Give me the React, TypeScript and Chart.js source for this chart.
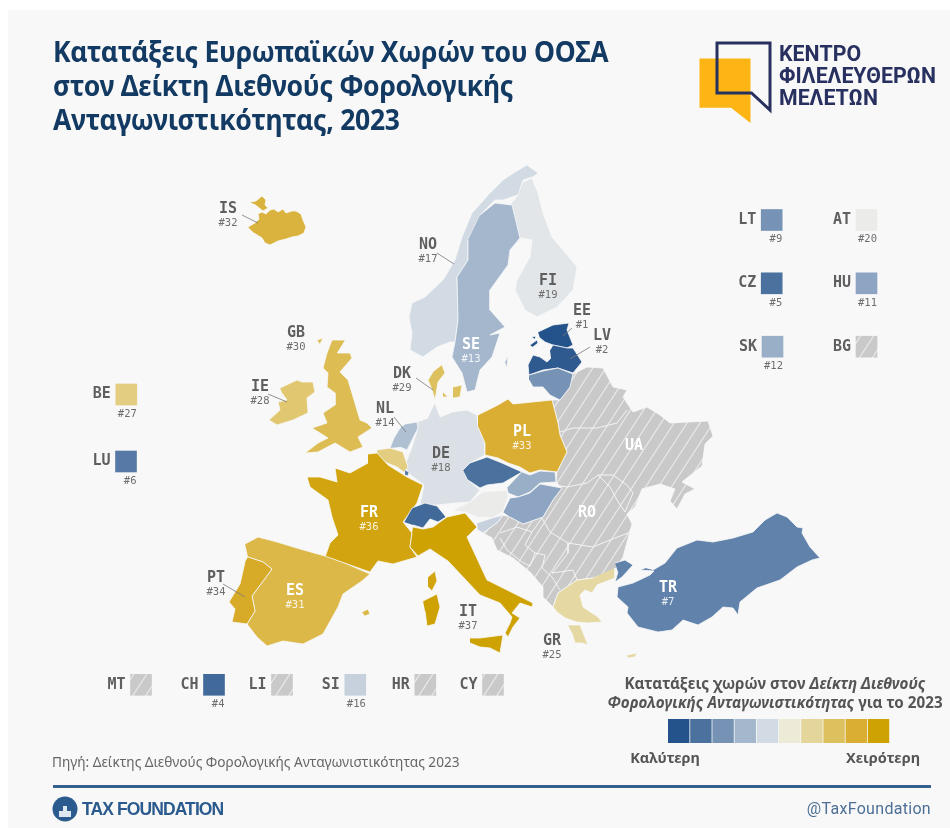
import React, { useEffect, useRef } from "react";
import { Chart, registerables } from "chart.js";

Chart.register(...registerables);

type P = [number, number];

// ---- Ranks (countries missing here have no rank: hatched) ----
const rankedCodes = ["EE","LV","CH","CZ","LU","TR","LT","HU","SK","SE","NL","SI","NO","DE","FI","AT","GR","BE","IE","DK","GB","ES","IS","PL","PT","FR","IT"];
const rankValues = [1,2,4,5,6,7,9,11,12,13,14,16,17,18,19,20,25,27,28,29,30,31,32,33,34,36,37];
const scalePalette = ["#24528a","#4b729f","#7693b6","#a4b7cd","#d2dae3","#eeead8","#e4d59a","#dec15f","#d9ae33","#cfa204"];
const mapRamp = ["#24528a","#4b729f","#7693b6","#a4b7cd","#d2dae3","#f3f1ec","#e6d8a2","#dec15f","#d9ae33","#cfa204"];

// ---- Map outlines, in map units ----
const outlineIS: P[] = [[248,227],[255,223],[259,219],[258,214],[262,212],[266,214],[270,210],[274,209],[278,212],[283,209],[286,213],[292,211],[296,211],[301,214],[303,220],[306,227],[304,233],[298,236],[292,237],[286,239],[278,241],[270,245],[265,243],[262,238],[254,233]];
const outlineISnw: P[] = [[250,202],[256,201],[262,196],[266,200],[265,205],[268,208],[263,211],[258,207],[254,204]];
const outlineNO: P[] = [[538,173],[527,165],[515,172],[503,180],[490,193],[472,213],[462,237],[455,260],[443,280],[425,297],[412,303],[409,317],[412,333],[410,350],[423,357],[437,347],[450,342],[455,342],[458,320],[457,277],[468,260],[468,240],[480,215],[495,200],[503,200],[518,195],[523,180],[532,177]];
const outlineSE: P[] = [[480,215],[495,203],[512,205],[520,238],[510,250],[508,265],[490,290],[490,310],[505,327],[490,335],[500,333],[492,357],[480,370],[475,390],[467,392],[462,373],[452,357],[455,342],[458,320],[457,277],[468,260],[468,240]];
const outlineGotland: P[] = [[505,362],[508,355],[507,367]];
const outlineFI: P[] = [[523,182],[532,178],[538,193],[543,213],[552,237],[563,250],[577,267],[573,290],[557,307],[537,317],[525,310],[515,290],[517,280],[530,257],[532,240],[520,238],[513,213],[510,205],[518,195]];
const outlineDKjut: P[] = [[442,365],[445,373],[438,382],[435,400],[432,390],[428,380],[433,372]];
const outlineDKzea: P[] = [[453,387],[462,385],[460,397],[453,398]];
const outlineDKfyn: P[] = [[443,392],[448,397],[443,397]];
const outlineDE: P[] = [[435,403],[440,417],[452,412],[467,410],[477,415],[478,427],[485,443],[485,455],[470,463],[463,470],[468,480],[480,490],[470,502],[455,503],[437,505],[420,505],[424,485],[408,473],[405,465],[412,447],[418,428],[417,422],[428,418]];
const outlineNL: P[] = [[390,448],[394,438],[400,428],[405,424],[417,422],[418,428],[412,440],[407,450],[400,447]];
const outlineBE: P[] = [[377,450],[390,448],[403,452],[408,467],[405,471],[405,473],[397,467],[387,463],[378,457]];
const outlineLU: P[] = [[405,470],[409,472],[408,476],[405,475]];
const outlineFR: P[] = [[368,454],[377,453],[388,465],[407,477],[423,485],[417,503],[403,522],[412,533],[410,547],[417,557],[393,564],[378,561],[370,572],[347,564],[325,557],[330,543],[338,535],[332,517],[328,500],[310,487],[307,477],[320,477],[337,482],[335,468],[350,473],[368,463]];
const outlineCorsica: P[] = [[428,577],[435,571],[437,581],[432,591],[428,587]];
const outlineIT: P[] = [[413,527],[423,529],[433,527],[447,517],[465,513],[477,527],[467,537],[480,565],[487,580],[503,588],[523,598],[533,603],[532,607],[520,603],[512,613],[520,618],[513,627],[508,637],[505,633],[510,623],[512,617],[500,603],[480,595],[448,561],[430,549],[418,556],[410,547],[412,533]];
const outlineSardinia: P[] = [[423,601],[437,594],[440,607],[435,624],[427,626],[425,611]];
const outlineSicily: P[] = [[470,638],[480,638],[503,635],[500,653],[490,648],[480,647],[470,643]];
const outlineES: P[] = [[245,544],[258,537],[277,542],[300,549],[325,556],[347,564],[370,574],[362,581],[343,594],[338,607],[323,634],[303,644],[283,641],[267,646],[257,637],[247,624],[255,611],[252,596],[272,569],[263,562],[248,557]];
const outlineMallorca: P[] = [[362,612],[368,609],[370,614],[365,616]];
const outlinePT: P[] = [[248,557],[263,562],[272,569],[252,596],[255,611],[247,624],[232,622],[235,609],[229,602],[240,584],[245,562]];
const outlineGB: P[] = [[345,340],[332,340],[327,353],[323,368],[328,373],[327,387],[335,393],[335,405],[323,413],[327,423],[312,428],[320,433],[328,438],[318,443],[305,453],[318,452],[335,443],[350,452],[363,447],[358,437],[372,428],[367,423],[360,420],[348,380],[340,372],[352,358],[350,353],[337,353]];
const outlineHebrides: P[] = [[317,340],[323,338],[320,344]];
const outlineIE: P[] = [[280,388],[297,380],[302,382],[313,382],[315,392],[307,398],[308,413],[293,420],[277,425],[269,420],[280,410],[278,402],[287,400],[282,393]];
const outlineEE: P[] = [[538,332],[553,325],[569,323],[567,330],[573,345],[567,348],[553,345],[545,342],[540,338]];
const outlineSaaremaa: P[] = [[530,345],[537,340],[538,343],[533,347]];
const outlineHiiumaa: P[] = [[532,337],[536,336],[535,339]];
const outlineLV: P[] = [[550,350],[553,345],[567,348],[573,348],[582,362],[573,373],[558,368],[543,370],[529,375],[528,365],[533,355],[540,357],[547,362],[551,358]];
const outlineLT: P[] = [[529,375],[543,371],[558,368],[573,374],[570,387],[560,400],[550,395],[543,387],[533,387],[529,380]];
const outlinePL: P[] = [[478,415],[498,405],[508,399],[513,404],[552,400],[558,423],[560,435],[567,452],[557,472],[540,470],[530,473],[520,467],[508,463],[498,458],[485,455],[485,443],[478,427]];
const outlineCZ: P[] = [[463,470],[470,463],[487,457],[502,463],[522,472],[503,483],[487,485],[480,488],[468,480]];
const outlineSK: P[] = [[522,472],[530,475],[540,471],[555,472],[556,482],[540,483],[530,492],[518,497],[508,493],[507,488]];
const outlineHU: P[] = [[503,512],[510,498],[518,497],[530,493],[540,484],[562,488],[553,500],[543,517],[523,524],[510,517]];
const outlineAT: P[] = [[453,510],[470,502],[482,492],[507,490],[508,497],[503,512],[492,518],[477,517],[465,512]];
const outlineCH: P[] = [[404,522],[412,508],[425,503],[437,506],[446,517],[438,522],[430,519],[423,528],[413,525]];
const outlineSI: P[] = [[477,523],[492,518],[503,515],[498,522],[483,533],[478,530]];
const outlineTRthrace: P[] = [[615,563],[625,560],[633,565],[622,577],[615,582],[618,572]];
const outlineTR: P[] = [[653,570],[665,563],[677,548],[697,540],[713,542],[733,538],[753,532],[765,520],[777,513],[787,517],[797,527],[803,528],[802,533],[810,547],[820,558],[812,560],[797,567],[780,580],[757,588],[740,602],[738,615],[733,608],[723,607],[712,617],[698,625],[683,620],[672,630],[658,632],[638,627],[627,613],[628,607],[617,597],[618,587],[633,583],[650,575],[654,571],[640,570],[645,568]];
const outlineGR: P[] = [[615,568],[615,578],[597,585],[592,593],[585,590],[580,595],[583,607],[598,617],[602,622],[587,623],[577,622],[565,618],[557,612],[553,607],[558,593],[577,580],[593,578]];
const outlinePeloponnese: P[] = [[568,625],[580,625],[588,645],[582,643],[575,643],[572,633]];
const outlineCrete: P[] = [[627,655],[637,653],[635,657],[628,658]];
const outlineHatched: P[] = [[573,374],[587,367],[603,368],[613,387],[627,390],[623,397],[633,412],[647,407],[660,415],[670,423],[708,421],[713,436],[705,444],[702,466],[682,482],[695,489],[685,494],[677,509],[670,501],[675,489],[660,484],[642,489],[635,507],[627,514],[632,524],[623,557],[615,570],[593,578],[577,580],[558,593],[553,607],[543,597],[543,587],[530,572],[513,558],[497,550],[492,538],[483,533],[498,522],[503,515],[510,517],[523,524],[543,517],[553,500],[562,488],[556,482],[557,472],[567,452],[560,435],[558,423],[552,400],[560,400],[570,387]];

// ---- Internal borders of the hatched block ----
const borderBY: P[] = [[560,432],[573,428],[597,428],[617,423],[627,410]];
const borderUA: P[] = [[555,485],[567,487],[587,483],[598,475],[613,475],[627,485],[633,493],[625,512]];
const borderMD: P[] = [[598,475],[610,487],[617,500],[625,512]];
const borderROsouth: P[] = [[568,543],[593,547],[610,540],[628,533]];
const borderROwest: P[] = [[542,518],[550,532],[568,543],[568,553],[555,570],[552,573]];
const borderHR: P[] = [[500,533],[517,527],[532,532],[542,518]];
const borderBA: P[] = [[500,538],[507,550],[522,562],[530,566],[535,553],[525,545],[532,532]];
const borderRS: P[] = [[535,553],[545,555],[542,568],[552,577],[560,590]];
const borderMK: P[] = [[552,573],[573,570],[577,580]];

// ---- Leader lines ----
const leaderIS: P[] = [[242,215],[258,223]];
const leaderNO: P[] = [[437,253],[454,264]];
const leaderIE: P[] = [[268,394],[287,402]];
const leaderDK: P[] = [[416,378],[433,390]];
const leaderNL: P[] = [[394,417],[406,432]];
const leaderEE: P[] = [[572,328],[563,336]];
const leaderLV: P[] = [[590,347],[570,359]];
const leaderPT: P[] = [[223,584],[245,597]];

const mapShapes: { code: string; outlines: P[][] }[] = [
  { code: "IS", outlines: [outlineIS, outlineISnw] },
  { code: "NO", outlines: [outlineNO] },
  { code: "FI", outlines: [outlineFI] },
  { code: "SE", outlines: [outlineSE, outlineGotland] },
  { code: "DK", outlines: [outlineDKjut, outlineDKzea, outlineDKfyn] },
  { code: "DE", outlines: [outlineDE] },
  { code: "NL", outlines: [outlineNL] },
  { code: "BE", outlines: [outlineBE] },
  { code: "FR", outlines: [outlineFR, outlineCorsica] },
  { code: "LU", outlines: [outlineLU] },
  { code: "IT", outlines: [outlineIT, outlineSardinia, outlineSicily] },
  { code: "ES", outlines: [outlineES, outlineMallorca] },
  { code: "PT", outlines: [outlinePT] },
  { code: "GB", outlines: [outlineGB, outlineHebrides] },
  { code: "IE", outlines: [outlineIE] },
  { code: "EE", outlines: [outlineEE, outlineSaaremaa, outlineHiiumaa] },
  { code: "LV", outlines: [outlineLV] },
  { code: "LT", outlines: [outlineLT] },
  { code: "PL", outlines: [outlinePL] },
  { code: "CZ", outlines: [outlineCZ] },
  { code: "SK", outlines: [outlineSK] },
  { code: "HU", outlines: [outlineHU] },
  { code: "AT", outlines: [outlineAT] },
  { code: "CH", outlines: [outlineCH] },
  { code: "SI", outlines: [outlineSI] },
  { code: "TR", outlines: [outlineTR, outlineTRthrace] },
  { code: "GR", outlines: [outlineGR, outlinePeloponnese, outlineCrete] },
];
const hatchedBorders = [borderBY, borderUA, borderMD, borderROsouth, borderROwest, borderHR, borderBA, borderRS, borderMK];
const leaders = [leaderIS, leaderNO, leaderIE, leaderDK, leaderNL, leaderEE, leaderLV, leaderPT];

// ---- Small-state tiles ----
const tileCodes = ["BE","LU","LT","AT","CZ","HU","SK","BG","MT","CH","LI","SI","HR","CY"];
const tileX = [126.3,126,771.7,866.5,771.7,866.5,772.5,866.5,141,214,282,355.3,425.3,493];
const tileY = [394.5,461.5,220,220,283.3,283.3,346.7,346.7,684.8,684.8,684.8,684.8,684.8,684.8];

// ---- Labels on the map ----
const mapLabelCodes = ["IS","NO","GB","IE","DK","NL","SE","FI","EE","LV","DE","PL","FR","ES","PT","IT","GR","TR"];
const mapLabelX = [228,428,296,260,402,385,471,548,582,602,441,522,369,295,216,468,552,668];
const mapLabelY = [209,245,333,387,374,409,345,281,311,336,454,432,513,591,578,612,641,588];
const whiteLabels = ["SE","PL","FR","ES","TR"];
const noRankLabels = [{ code: "UA", x: 634, y: 446 }, { code: "RO", x: 587, y: 513 }];

// ---- Legend scale geometry ----
const scaleCellEdges = [668,690.2,712.4,734.6,756.8,779,801.2,823.4,845.6,867.8,890];

const rankOf = (code: string) => {
  const i = rankedCodes.indexOf(code);
  return i < 0 ? null : rankValues[i];
};
const hexToRgb = (h: string) => [1, 3, 5].map((i) => parseInt(h.slice(i, i + 2), 16));
const colourForRank = (rank: number) => {
  const t = ((rank - 1) / 36) * (mapRamp.length - 1);
  const i = Math.min(Math.floor(t), mapRamp.length - 2);
  const a = hexToRgb(mapRamp[i]);
  const b = hexToRgb(mapRamp[i + 1]);
  const c = a.map((v, k) => Math.round(v + (b[k] - v) * (t - i)));
  return `rgb(${c[0]},${c[1]},${c[2]})`;
};
const toXY = (pts: P[]) => pts.map(([x, y]) => ({ x, y }));

const makeHatch = () => {
  const W = 13, H = 20;
  const c = document.createElement("canvas");
  c.width = W; c.height = H;
  const g = c.getContext("2d")!;
  g.fillStyle = "#c9c9c9";
  g.fillRect(0, 0, W, H);
  g.strokeStyle = "#ececec";
  g.lineWidth = 1.1;
  for (const dx of [-W, 0, W]) {
    g.beginPath();
    g.moveTo(dx, H);
    g.lineTo(dx + W, 0);
    g.stroke();
  }
  return g.createPattern(c, "repeat")!;
};

const CODE_FONT = 'bold 15px "DejaVu Sans Mono", monospace';
const RANK_FONT = '10.5px "DejaVu Sans Mono", monospace';

const labelPlugin = {
  id: "mapLabels",
  afterDatasetsDraw(chart: any) {
    const { ctx, scales } = chart;
    const X = (v: number) => scales.x.getPixelForValue(v);
    const Y = (v: number) => scales.y.getPixelForValue(v);
    ctx.save();
    ctx.textBaseline = "middle";
    ctx.textAlign = "center";
    mapLabelCodes.forEach((code, i) => {
      const white = whiteLabels.includes(code);
      ctx.font = CODE_FONT;
      ctx.fillStyle = white ? "#ffffff" : "#5f5f5f";
      ctx.fillText(code, X(mapLabelX[i]), Y(mapLabelY[i]));
      ctx.font = RANK_FONT;
      ctx.fillStyle = white ? "rgba(255,255,255,0.85)" : "#6e6e6e";
      ctx.fillText("#" + rankOf(code), X(mapLabelX[i]), Y(mapLabelY[i] + 14.5));
    });
    ctx.font = CODE_FONT;
    ctx.fillStyle = "#ffffff";
    noRankLabels.forEach((l) => ctx.fillText(l.code, X(l.x), Y(l.y)));
    tileCodes.forEach((code, i) => {
      ctx.textAlign = "right";
      ctx.font = CODE_FONT;
      ctx.fillStyle = "#5f5f5f";
      ctx.fillText(code, X(tileX[i] - 15.5), Y(tileY[i]));
      const r = rankOf(code);
      if (r !== null) {
        ctx.font = RANK_FONT;
        ctx.fillStyle = "#6e6e6e";
        ctx.fillText("#" + r, X(tileX[i] + 10.5), Y(tileY[i] + 19.5));
      }
    });
    ctx.restore();
  },
};

const abs = (left: number, top: number, extra: React.CSSProperties = {}): React.CSSProperties => ({
  position: "absolute", left, top, whiteSpace: "nowrap", ...extra,
});

export default function App() {
  const ref = useRef<HTMLCanvasElement>(null);
  useEffect(() => {
    const hatch = makeHatch();
    const datasets: any[] = [];
    const poly = (pts: P[], fillColour: any, border = "#f8f8f8", width = 0.8) => ({
      data: toXY(pts), showLine: true, fill: "shape", backgroundColor: fillColour,
      borderColor: border, borderWidth: width, pointRadius: 0, tension: 0,
    });
    const line = (pts: P[], colour: string, width: number) => ({
      data: toXY(pts), showLine: true, fill: false, borderColor: colour, borderWidth: width, pointRadius: 0,
    });
    datasets.push(poly(outlineHatched, hatch));
    hatchedBorders.forEach((b) => datasets.push(line(b, "#f4f4f4", 1)));
    mapShapes.forEach((s) => {
      const colour = colourForRank(rankOf(s.code) as number);
      s.outlines.forEach((o) => datasets.push(poly(o, colour)));
    });
    leaders.forEach((l) => datasets.push(line(l, "#7a7a7a", 0.8)));
    datasets.push({
      data: tileCodes.map((_, i) => ({ x: tileX[i], y: tileY[i] })),
      pointStyle: "rect", pointRadius: 15.3, pointBorderWidth: 0,
      pointBackgroundColor: tileCodes.map((c) => {
        const r = rankOf(c);
        return r === null ? hatch : colourForRank(r);
      }),
    });
    scalePalette.forEach((colour, i) => {
      const a = scaleCellEdges[i], b = scaleCellEdges[i + 1] - 0.8;
      datasets.push(poly([[a, 719], [b, 719], [b, 743], [a, 743]], colour, colour, 0));
    });
    // Chart.js paints the first dataset last, so the list is reversed to keep the painting order above.
    datasets.reverse();
    const chart = new Chart(ref.current!, {
      type: "scatter",
      data: { datasets },
      options: {
        animation: false,
        responsive: false,
        layout: { padding: 0, autoPadding: false },
        plugins: { legend: { display: false }, tooltip: { enabled: false }, title: { display: false } },
        scales: {
          x: { type: "linear", min: 0, max: 950, display: false },
          y: { type: "linear", min: 0, max: 828, reverse: true, display: false },
        },
      },
      plugins: [labelPlugin],
    } as any);
    return () => chart.destroy();
  }, []);

  const titleStyle: React.CSSProperties = {
    fontFamily: '"Noto Sans", sans-serif', fontWeight: 700, fontSize: 29, lineHeight: "34px", color: "#133a63",
    letterSpacing: "-0.3px", transform: "scaleX(0.915)", transformOrigin: "left top",
  };
  const logoText: React.CSSProperties = {
    fontFamily: "Roboto, sans-serif", fontWeight: 700, fontSize: 21.3, lineHeight: "22px", color: "#27305f",
  };
  const capStyle: React.CSSProperties = {
    fontFamily: '"Noto Sans", sans-serif', fontWeight: 700, fontSize: 15.2, lineHeight: "19px", color: "#555555", textAlign: "center",
  };
  return (
    <div style={{ position: "absolute", left: 0, top: 0, width: 950, height: 828, background: "#ffffff", overflow: "hidden" }}>
      <div style={{ position: "absolute", left: 8, top: 10, width: 942, height: 818, background: "#f8f8f8" }} />
      <canvas ref={ref} width={950} height={828} style={{ position: "absolute", left: 0, top: 0, width: 950, height: 828 }} />
      <div style={abs(53, 34, titleStyle)}>
        <div>Κατατάξεις Ευρωπαϊκών Χωρών του ΟΟΣΑ</div>
        <div>στον Δείκτη Διεθνούς Φορολογικής</div>
        <div>Ανταγωνιστικότητας, 2023</div>
      </div>
      <svg width={950} height={140} style={{ position: "absolute", left: 0, top: 0 }}>
        <polygon points="699.5,58.5 750.5,58.5 750.5,123 731,107.7 699.5,107.7" fill="#fdb515" />
        <polygon points="717,43 770,43 770,110 751.5,93 717,93" fill="none" stroke="#27305f" strokeWidth={3} />
      </svg>
      <div style={abs(779, 43, logoText)}>
        <div>ΚΕΝΤΡΟ</div>
        <div>ΦΙΛΕΛΕΥΘΕΡΩΝ</div>
        <div>ΜΕΛΕΤΩΝ</div>
      </div>
      <div style={abs(605, 674, { ...capStyle, width: 340 })}>
        <div>Κατατάξεις χωρών στον <i>Δείκτη Διεθνούς</i></div>
        <div><i>Φορολογικής Ανταγωνιστικότητας</i> για το 2023</div>
      </div>
      <div style={abs(615, 748, { ...capStyle, width: 100, fontSize: 14.5 })}>Καλύτερη</div>
      <div style={abs(833, 748, { ...capStyle, width: 100, fontSize: 14.5 })}>Χειρότερη</div>
      <div style={abs(52, 752, { fontFamily: '"Noto Sans", sans-serif', fontSize: 13.65, lineHeight: "20px", color: "#666666" })}>
        Πηγή: Δείκτης Διεθνούς Φορολογικής Ανταγωνιστικότητας 2023
      </div>
      <div style={{ position: "absolute", left: 53, top: 785, width: 878, height: 2.5, background: "#33608f" }} />
      <svg width={30} height={30} style={{ position: "absolute", left: 50, top: 794 }}>
        <circle cx={15} cy={15} r={12.5} fill="#2a5a8e" />
        <rect x={9} y={17} width={12} height={6} fill="#dfe7f0" />
        <rect x={13} y={12} width={4} height={5} fill="#dfe7f0" />
      </svg>
      <div style={abs(82, 799, { fontFamily: '"Liberation Sans", sans-serif', fontWeight: 700, fontSize: 17.5, lineHeight: "20px", color: "#2a5a8e", letterSpacing: "-0.9px" })}>
        TAX FOUNDATION
      </div>
      <div style={{ position: "absolute", right: 19, top: 799, fontFamily: "Roboto, sans-serif", fontSize: 16, lineHeight: "20px", color: "#4d6f96", letterSpacing: "0.3px" }}>
        @TaxFoundation
      </div>
    </div>
  );
}
